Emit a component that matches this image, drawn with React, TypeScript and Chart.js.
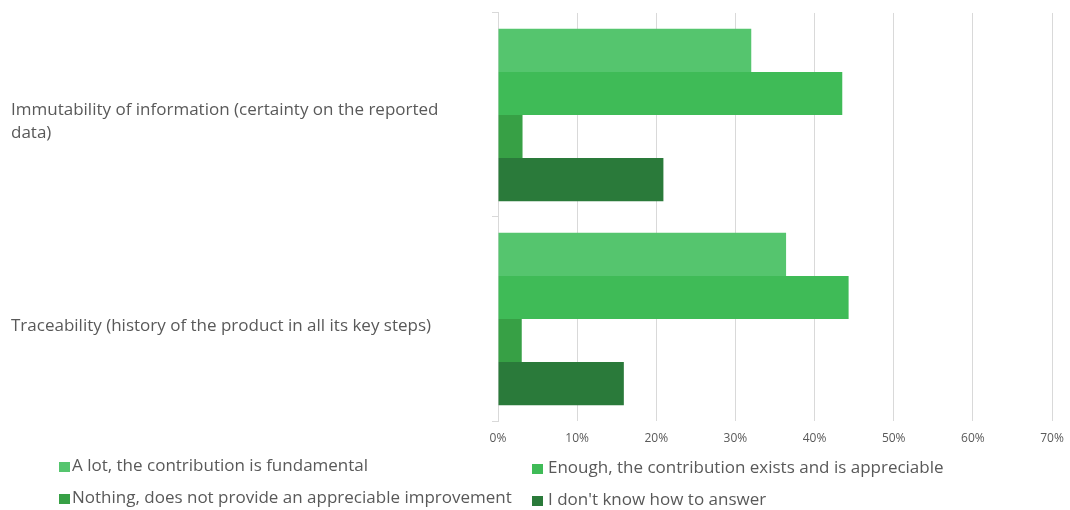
import React, { useEffect, useRef } from "react";
import { Chart, registerables } from "chart.js";

Chart.register(...registerables);

// Survey categories (first label wraps onto two lines)
const categories: string[][] = [
  ["Immutability of information (certainty on the reported", "data)"],
  ["Traceability (history of the product in all its key steps)"],
];

// Share of answers per category, in percent
const aLot = [32, 36.4];
const enough = [43.5, 44.3];
const nothing = [3.1, 3];
const dontKnow = [20.9, 15.9];

const seriesNames = [
  "A lot, the contribution is fundamental",
  "Enough, the contribution exists and is appreciable",
  "Nothing, does not provide an appreciable improvement",
  "I don't know how to answer",
];
const seriesColors = ["#55c56e", "#3fbb57", "#37a045", "#2a7a3a"];

const xTicks = [0, 10, 20, 30, 40, 50, 60, 70];

const FONT = "'Open Sans', 'Noto Sans', sans-serif";
const TEXT = "#595959";

export default function App() {
  const canvasRef = useRef<HTMLCanvasElement | null>(null);

  useEffect(() => {
    document.body.style.margin = "0";
    const ctx = canvasRef.current!;
    const values = [aLot, enough, nothing, dontKnow];
    const chart = new Chart(ctx, {
      type: "bar",
      data: {
        labels: categories,
        datasets: values.map((v, i) => ({
          label: seriesNames[i],
          data: v,
          backgroundColor: seriesColors[i],
          borderWidth: 0,
          barPercentage: 1,
          categoryPercentage: 0.845,
        })),
      },
      options: {
        indexAxis: "y",
        animation: false,
        responsive: false,
        maintainAspectRatio: false,
        layout: { padding: { left: 11, top: 11, right: 18, bottom: 0 } },
        plugins: {
          legend: { display: false },
          tooltip: { enabled: false },
        },
        scales: {
          x: {
            min: 0,
            max: 70,
            afterBuildTicks: (scale: any) => {
              scale.ticks = xTicks.map((v) => ({ value: v }));
            },
            afterFit: (scale: any) => {
              scale.height = 89;
            },
            grid: {
              color: "#d9d9d9",
              lineWidth: 1,
              drawTicks: true,
              tickLength: 10,
              tickColor: "rgba(0,0,0,0)",
            },
            border: { display: false },
            ticks: {
              padding: 0,
              color: TEXT,
              font: { family: FONT, size: 12 },
              callback: (v: any) => `${v}%`,
            },
          },
          y: {
            afterFit: (scale: any) => {
              scale.width = 487;
            },
            grid: {
              drawOnChartArea: false,
              drawTicks: true,
              tickLength: 6,
              color: "#d9d9d9",
              offset: true,
            },
            border: { display: true, color: "#d9d9d9", width: 1 },
            ticks: {
              crossAlign: "far",
              padding: 1.5,
              labelOffset: 7,
              color: TEXT,
              font: { family: FONT, size: 17, lineHeight: 1.35 },
            },
          },
        },
      },
    });
    return () => chart.destroy();
  }, []);

  const legendItems = [
    { i: 0, left: 59, top: 465, textLeft: 72 },
    { i: 1, left: 532, top: 467, textLeft: 548 },
    { i: 2, left: 59, top: 497, textLeft: 72 },
    { i: 3, left: 532, top: 499, textLeft: 548 },
  ];

  return (
    <div style={{ position: "absolute", left: 0, top: 0, width: 1070, height: 510, background: "#fff" }}>
      <canvas ref={canvasRef} width={1070} height={510} style={{ display: "block" }} />
      {legendItems.map(({ i, left, top, textLeft }) => (
        <React.Fragment key={i}>
          <div
            style={{
              position: "absolute",
              left,
              top: top - 3,
              width: 11,
              height: 10,
              background: seriesColors[i],
            }}
          />
          <div
            style={{
              position: "absolute",
              left: textLeft,
              top: top - 12,
              height: 24,
              lineHeight: "24px",
              fontFamily: FONT,
              fontSize: 17,
              color: TEXT,
              whiteSpace: "nowrap",
            }}
          >
            {seriesNames[i]}
          </div>
        </React.Fragment>
      ))}
    </div>
  );
}
